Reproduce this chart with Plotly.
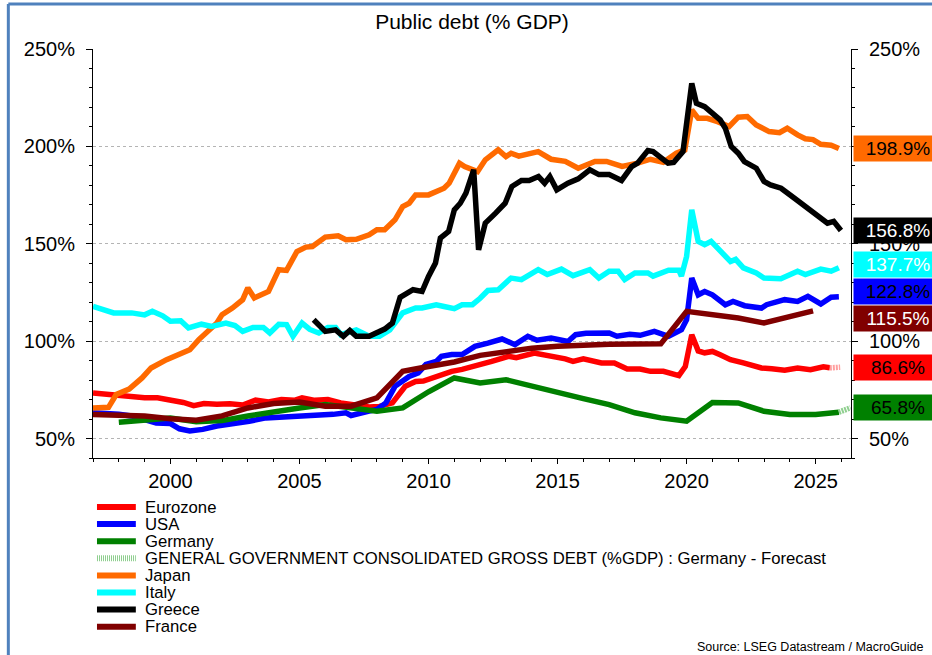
import plotly.graph_objects as go

# ---------------------------------------------------------------------------
# Public debt, % of GDP (x = fractional year)
# ---------------------------------------------------------------------------
eurozone_x = [1997.0, 1997.5, 1998.0, 1998.5, 1999.0, 1999.5, 2000.0, 2000.5, 2000.9, 2001.3,
              2001.8, 2002.3, 2002.8, 2003.3, 2003.8, 2004.3, 2004.8, 2005.1, 2005.6, 2006.1,
              2006.6, 2007.2, 2007.7, 2008.1, 2008.6, 2009.1, 2009.5, 2009.8, 2010.3, 2010.9,
              2011.3, 2011.8, 2012.45, 2013.1, 2013.4, 2014.1, 2014.8, 2015.3, 2015.6, 2016.0,
              2016.7, 2017.2, 2017.7, 2018.2, 2018.6, 2019.1, 2019.7, 2019.95, 2020.2, 2020.45,
              2020.7, 2021.0, 2021.3, 2021.7, 2022.2, 2022.9, 2023.3, 2023.8, 2024.3, 2024.8,
              2025.3, 2025.55]
eurozone_y = [73.4, 72.8, 72.0, 71.3, 70.9, 70.9, 70.0, 68.5, 66.9, 68.0,
              67.6, 67.9, 67.2, 69.7, 68.8, 70.0, 69.6, 70.9, 69.6, 70.0,
              68.3, 66.9, 66.2, 66.5, 68.3, 76.8, 79.3, 79.5, 82.0, 84.5,
              85.5, 87.1, 89.6, 92.2, 91.5, 93.9, 92.5, 90.9, 89.6, 90.9,
              88.8, 88.8, 85.7, 85.7, 84.5, 84.5, 82.3, 87.0, 103.3, 95.0,
              94.0, 94.7, 93.0, 90.5, 88.8, 86.2, 85.8, 85.1, 86.2, 85.3,
              86.8, 86.3]
eurozone_fc_x = [2025.55, 2025.95]
eurozone_fc_y = [86.3, 86.6]

usa_x = [1997.0, 1997.5, 1998.0, 1998.5, 1999.0, 1999.45, 2000.0, 2000.35, 2000.75, 2001.25,
         2001.8, 2002.4, 2003.05, 2003.7, 2004.3, 2005.0, 2005.6, 2006.3, 2006.8, 2007.0,
         2007.7, 2008.0, 2008.35, 2008.7, 2009.25, 2009.6, 2009.9, 2010.3, 2010.5, 2010.9,
         2011.3, 2011.8, 2012.3, 2012.85, 2013.35, 2013.85, 2014.2, 2014.75, 2015.4, 2015.7,
         2016.1, 2016.7, 2017.0, 2017.3, 2017.8, 2018.2, 2018.75, 2019.3, 2019.8, 2020.0,
         2020.2, 2020.45, 2020.7, 2021.0, 2021.5, 2021.8, 2022.25, 2022.9, 2023.1, 2023.8,
         2024.3, 2024.7, 2025.2, 2025.6, 2025.9]
usa_y = [63.2, 63.2, 62.5, 61.6, 60.0, 58.0, 57.7, 55.0, 53.9, 54.7,
         56.4, 57.3, 58.9, 60.6, 60.9, 61.4, 61.8, 62.4, 63.2, 61.8,
         64.1, 64.9, 68.3, 76.8, 81.9, 83.7, 88.0, 89.6, 92.2, 93.1,
         93.1, 97.3, 99.0, 101.1, 98.2, 102.5, 100.5, 101.6, 99.8, 103.3,
         104.0, 104.5, 104.2, 102.5, 103.5, 103.0, 105.0, 102.5, 105.9, 111.0,
         132.4, 123.8, 125.5, 123.8, 118.7, 120.4, 118.2, 117.0, 118.7, 121.3,
         120.4, 123.0, 119.1, 122.6, 122.8]

germany_x = [1998, 1999, 2000, 2001, 2002, 2003, 2004, 2005, 2006, 2007,
             2008, 2009, 2010, 2011, 2012, 2013, 2014, 2015, 2016, 2017,
             2018, 2019, 2020, 2021, 2022, 2023, 2024, 2025, 2025.9]
germany_y = [58.4, 59.5, 60.5, 58.6, 59.2, 61.6, 64.0, 65.7, 67.4, 65.7,
             64.0, 65.7, 74.0, 81.1, 78.5, 80.2, 76.8, 73.4, 70.5, 67.4,
             63.2, 60.6, 58.9, 68.5, 68.3, 64.0, 62.3, 62.3, 63.5]
germany_fc_x = [2025.9, 2026.35]
germany_fc_y = [63.5, 65.8]

japan_x = [1997.0, 1997.6, 1997.9, 1998.4, 1998.9, 1999.25, 1999.85, 2000.35, 2000.75, 2001.1,
           2001.4, 2001.8, 2002.0, 2002.4, 2002.8, 2003.0, 2003.25, 2003.8, 2004.2, 2004.5,
           2004.9, 2005.25, 2005.5, 2006.0, 2006.5, 2006.8, 2007.2, 2007.7, 2008.0, 2008.3,
           2008.7, 2009.0, 2009.25, 2009.5, 2010.0, 2010.3, 2010.6, 2010.8, 2011.2, 2011.4,
           2011.9, 2012.2, 2012.7, 2013.0, 2013.2, 2013.5, 2013.9, 2014.25, 2014.75, 2015.3,
           2015.8, 2016.45, 2016.9, 2017.5, 2018.1, 2018.6, 2019.1, 2019.6, 2019.93, 2020.2,
           2020.45, 2020.8, 2021.2, 2021.65, 2022.0, 2022.35, 2022.7, 2023.2, 2023.6, 2023.9,
           2024.3, 2024.6, 2024.9, 2025.2, 2025.6, 2025.9]
japan_y = [65.7, 66.0, 72.6, 75.4, 81.1, 86.2, 90.5, 93.0, 95.6, 100.8,
           104.2, 109.3, 113.6, 117.0, 121.3, 127.3, 122.2, 125.5, 136.7, 136.3,
           146.0, 148.3, 148.6, 153.4, 154.1, 152.1, 152.3, 154.6, 157.2, 157.2,
           162.3, 169.1, 170.8, 175.1, 175.1, 176.8, 178.5, 181.1, 191.4, 189.7,
           187.1, 193.1, 198.2, 194.8, 196.5, 195.0, 196.5, 197.3, 193.4, 192.3,
           188.8, 192.3, 192.3, 189.7, 191.4, 193.4, 191.8, 196.5, 198.2, 218.7,
           214.4, 214.4, 212.7, 210.2, 215.0, 215.3, 211.0, 207.6, 207.0, 209.3,
           205.9, 203.9, 203.5, 201.1, 200.6, 198.9]

italy_x = [1997.0, 1997.4, 1997.8, 1998.5, 1999.0, 1999.3, 1999.7, 2000.0, 2000.4, 2000.7,
           2001.2, 2001.6, 2002.15, 2002.5, 2002.8, 2003.2, 2003.6, 2003.85, 2004.2, 2004.5,
           2004.75, 2005.1, 2005.4, 2005.75, 2006.1, 2006.4, 2006.6, 2007.2, 2007.7, 2008.1,
           2008.5, 2009.0, 2009.5, 2009.75, 2010.3, 2010.6, 2011.0, 2011.3, 2011.7, 2012.0,
           2012.3, 2012.7, 2013.2, 2013.6, 2014.25, 2014.6, 2015.15, 2015.6, 2016.25, 2016.6,
           2017.0, 2017.35, 2017.6, 2018.0, 2018.5, 2018.7, 2019.3, 2019.7, 2019.8, 2020.0,
           2020.2, 2020.45, 2020.7, 2020.95, 2021.3, 2021.7, 2021.9, 2022.2, 2022.7, 2023.0,
           2023.65, 2024.3, 2024.6, 2025.2, 2025.6, 2025.9]
italy_y = [117.8, 116.0, 114.5, 114.5, 113.5, 115.3, 113.0, 110.2, 110.5, 106.8,
           108.7, 107.5, 109.3, 108.0, 105.0, 107.0, 107.0, 104.2, 108.7, 108.5,
           102.5, 109.3, 106.0, 104.2, 107.0, 107.0, 103.3, 105.8, 102.5, 102.5,
           105.8, 114.5, 117.0, 117.0, 118.7, 117.8, 116.7, 118.7, 118.7, 122.0,
           126.0, 126.4, 132.4, 131.6, 136.7, 134.2, 137.0, 133.6, 136.7, 132.4,
           135.9, 135.9, 131.6, 135.0, 135.0, 133.4, 136.4, 136.4, 133.4, 143.5,
           167.4, 151.2, 149.5, 151.2, 146.0, 140.9, 142.0, 137.6, 135.0, 132.4,
           132.0, 135.9, 134.2, 137.0, 135.9, 137.7]

greece_x = [2005.55, 2006.0, 2006.4, 2006.7, 2006.95, 2007.2, 2007.7, 2008.0, 2008.3, 2008.6,
            2008.9, 2009.4, 2009.75, 2010.0, 2010.27, 2010.46, 2010.78, 2011.0, 2011.23, 2011.45,
            2011.75, 2011.94, 2012.2, 2012.6, 2012.97, 2013.23, 2013.6, 2013.9, 2014.26, 2014.5,
            2014.7, 2014.97, 2015.4, 2015.8, 2016.25, 2016.6, 2017.0, 2017.48, 2017.87, 2018.1,
            2018.5, 2018.7, 2019.28, 2019.5, 2019.86, 2020.2, 2020.38, 2020.7, 2021.03, 2021.3,
            2021.5, 2021.73, 2022.0, 2022.24, 2022.7, 2023.0, 2023.25, 2023.66, 2024.18, 2024.7,
            2025.1, 2025.46, 2025.7, 2025.98]
greece_y = [111.0, 105.0, 105.8, 102.5, 105.5, 102.5, 102.5, 104.2, 106.2, 109.3,
            122.5, 126.4, 125.5, 133.2, 140.1, 152.9, 156.3, 167.4, 170.8, 176.0,
            188.0, 146.9, 160.6, 165.7, 170.8, 179.4, 182.5, 182.5, 184.5, 181.1,
            184.5, 177.7, 181.1, 183.3, 188.0, 185.5, 185.5, 182.5, 189.6, 191.4,
            197.9, 197.3, 191.4, 191.8, 197.3, 232.4, 222.1, 220.4, 216.2, 213.6,
            209.3, 199.9, 196.5, 192.2, 188.8, 182.0, 180.2, 178.5, 173.4, 168.3,
            164.0, 160.6, 161.5, 156.8]

france_x = [1997, 1998, 1999, 2000, 2001, 2002, 2003, 2004, 2005, 2006,
            2007, 2008, 2009, 2010, 2011, 2012, 2013, 2014, 2015, 2016,
            2017, 2018, 2019, 2020, 2021, 2022, 2023, 2024, 2024.9]
france_y = [62.3, 62.3, 61.6, 60.2, 59.4, 61.6, 65.7, 68.0, 68.7, 66.6,
            66.6, 70.9, 84.5, 87.0, 89.3, 92.7, 94.8, 96.4, 97.4, 98.2,
            98.4, 98.5, 98.6, 115.3, 113.6, 111.9, 109.3, 112.4, 115.5]

year_ticks = [2000, 2005, 2010, 2015, 2020, 2025]
pct_ticks = [50, 100, 150, 200, 250]

# ---------------------------------------------------------------------------
# Styling / geometry
# ---------------------------------------------------------------------------
W, H = 932, 655
ML, MR, MT, MB = 93, 78, 49, 197
PW, PH = W - ML - MR, H - MT - MB
X_MIN, X_MAX = 1997.0, 2026.37
Y_MIN, Y_MAX = 40, 250
FONT = "Liberation Sans, Arial, sans-serif"
LW = 5.5

C_EURO, C_USA, C_GER, C_GER_FC = "#ff0000", "#0000ff", "#008000", "#8fcf8f"
C_JPN, C_ITA, C_GRC, C_FRA = "#ff6a00", "#00ffff", "#000000", "#800000"
C_EURO_FC = "#ffa0a0"


def px_x(p):
    return (p - ML) / PW


def px_y(p):
    return (MT + PH - p) / PH


def val_to_px(v):
    return MT + (Y_MAX - v) / (Y_MAX - Y_MIN) * PH


def px_to_val(p):
    return Y_MAX - (p - MT) / PH * (Y_MAX - Y_MIN)


fig = go.Figure()


def add_line(x, y, color, name, dash=None, yaxis="y"):
    fig.add_trace(go.Scatter(
        x=x, y=y, mode="lines", name=name, showlegend=False, yaxis=yaxis,
        line=dict(color=color, width=LW, dash=dash), hoverinfo="skip",
    ))


add_line(eurozone_x, eurozone_y, C_EURO, "Eurozone")
add_line(usa_x, usa_y, C_USA, "USA")
add_line(germany_x, germany_y, C_GER, "Germany")
add_line(japan_x, japan_y, C_JPN, "Japan")
add_line(italy_x, italy_y, C_ITA, "Italy")
add_line(greece_x, greece_y, C_GRC, "Greece")
add_line(france_x, france_y, C_FRA, "France")
# forecast tails live on the right-hand axis (same scale)
add_line(eurozone_fc_x, eurozone_fc_y, C_EURO_FC, "Eurozone - Forecast", dash="2px,1px", yaxis="y2")
add_line(germany_fc_x, germany_fc_y, C_GER_FC, "Germany - Forecast", dash="2px,1px", yaxis="y2")

# ---------------------------------------------------------------------------
# Axes
# ---------------------------------------------------------------------------
tick_font = dict(family=FONT, size=20, color="black")
y_common = dict(
    range=[Y_MIN, Y_MAX], tickmode="array", tickvals=pct_ticks,
    ticktext=[f"{t}%" for t in pct_ticks],
    ticks="outside", ticklen=6, tickcolor="black", ticklabelstandoff=7,
    minor=dict(dtick=10, tick0=0, ticks="outside", ticklen=3,
               tickcolor="black", showgrid=False),
    showline=True, linecolor="black", linewidth=1,
    zeroline=False, tickfont=tick_font,
)
fig.update_layout(
    width=W, height=H,
    margin=dict(l=ML, r=MR, t=MT, b=MB, pad=0),
    paper_bgcolor="white", plot_bgcolor="white",
    font=dict(family=FONT, color="black"),
    showlegend=False,
    title=dict(text="Public debt (% GDP)", x=0.5, xref="paper", xanchor="center",
               y=1 - 22 / H, yref="container", yanchor="middle",
               font=dict(family=FONT, size=21, color="black")),
    xaxis=dict(
        range=[X_MIN, X_MAX], tickmode="array", tickvals=year_ticks,
        ticktext=[str(t) for t in year_ticks],
        ticks="outside", ticklen=5, tickcolor="black", tickwidth=1,
        minor=dict(dtick=1, tick0=2000, ticks="outside", ticklen=3,
                   tickcolor="black", showgrid=False),
        showline=True, linecolor="black", linewidth=1,
        showgrid=False, zeroline=False, tickfont=tick_font,
    ),
    yaxis=dict(**y_common, showgrid=True, gridcolor="#b4b4b4",
               griddash="dot", gridwidth=1),
    yaxis2=dict(**y_common, overlaying="y", side="right", anchor="x",
                showgrid=False),
)

# ---------------------------------------------------------------------------
# Last-value boxes on the right, spread apart so they do not overlap
# ---------------------------------------------------------------------------
end_labels = [
    (japan_y[-1], C_JPN, "black"),
    (greece_y[-1], C_GRC, "white"),
    (italy_y[-1], C_ITA, "white"),
    (usa_y[-1], C_USA, "black"),
    (france_y[-1], C_FRA, "white"),
    (eurozone_fc_y[-1], C_EURO, "black"),
    (germany_fc_y[-1], C_GER, "black"),
]
BOX_H, GAP = 25, 27
pos = [val_to_px(v) for v, _, _ in end_labels]
order = sorted(range(len(pos)), key=lambda i: pos[i])
for _ in range(300):
    moved = False
    for a, b in zip(order, order[1:]):
        d = pos[b] - pos[a]
        if d < GAP - 1e-6:
            push = (GAP - d) / 2
            pos[a] -= push
            pos[b] += push
            moved = True
    if not moved:
        break

annotations = []
for (v, bg, fg), p in zip(end_labels, pos):
    annotations.append(dict(
        x=1, xref="paper", xanchor="left", xshift=2,
        y=px_to_val(p), yref="y", yanchor="middle",
        text=f"{v:.1f}%", showarrow=False,
        bgcolor=bg, width=88, height=BOX_H, align="center", borderpad=0,
        font=dict(family=FONT, size=19, color=fg),
    ))

# ---------------------------------------------------------------------------
# Legend below the plot
# ---------------------------------------------------------------------------
legend_names = ["Eurozone", "USA", "Germany",
                "GENERAL GOVERNMENT CONSOLIDATED GROSS DEBT (%GDP) : Germany - Forecast",
                "Japan", "Italy", "Greece", "France"]
legend_colors = [C_EURO, C_USA, C_GER, C_GER_FC, C_JPN, C_ITA, C_GRC, C_FRA]
legend_dash = [None, None, None, "1px,1px", None, None, None, None]

shapes = []
ROW0, ROW_STEP = 507, 17.1
for i, (name, col, dsh) in enumerate(zip(legend_names, legend_colors, legend_dash)):
    yrow = ROW0 + i * ROW_STEP
    shapes.append(dict(type="line", xref="paper", yref="paper",
                       x0=px_x(97), x1=px_x(136), y0=px_y(yrow), y1=px_y(yrow),
                       line=dict(color=col, width=6, dash=dsh)))
    annotations.append(dict(
        x=px_x(143), xref="paper", xanchor="left",
        y=px_y(yrow), yref="paper", yanchor="middle",
        text=name, showarrow=False,
        font=dict(family=FONT, size=16.7, color="black"),
    ))

annotations.append(dict(
    x=px_x(929), xref="paper", xanchor="right",
    y=px_y(647), yref="paper", yanchor="middle",
    text="Source: LSEG Datastream / MacroGuide", showarrow=False,
    font=dict(family=FONT, size=12.5, color="black"),
))

# frame around the chart
FRAME = "#4f81bd"
shapes.append(dict(type="line", xref="paper", yref="paper",
                   x0=px_x(8), x1=px_x(8), y0=px_y(4), y1=px_y(H + 5),
                   line=dict(color=FRAME, width=3)))
shapes.append(dict(type="line", xref="paper", yref="paper",
                   x0=px_x(8), x1=px_x(W + 5), y0=px_y(4), y1=px_y(4),
                   line=dict(color=FRAME, width=3)))

fig.update_layout(annotations=annotations, shapes=shapes)

fig.write_html("out.html", config={"displayModeBar": False, "responsive": False},
               post_script="document.body.style.margin='0';")
